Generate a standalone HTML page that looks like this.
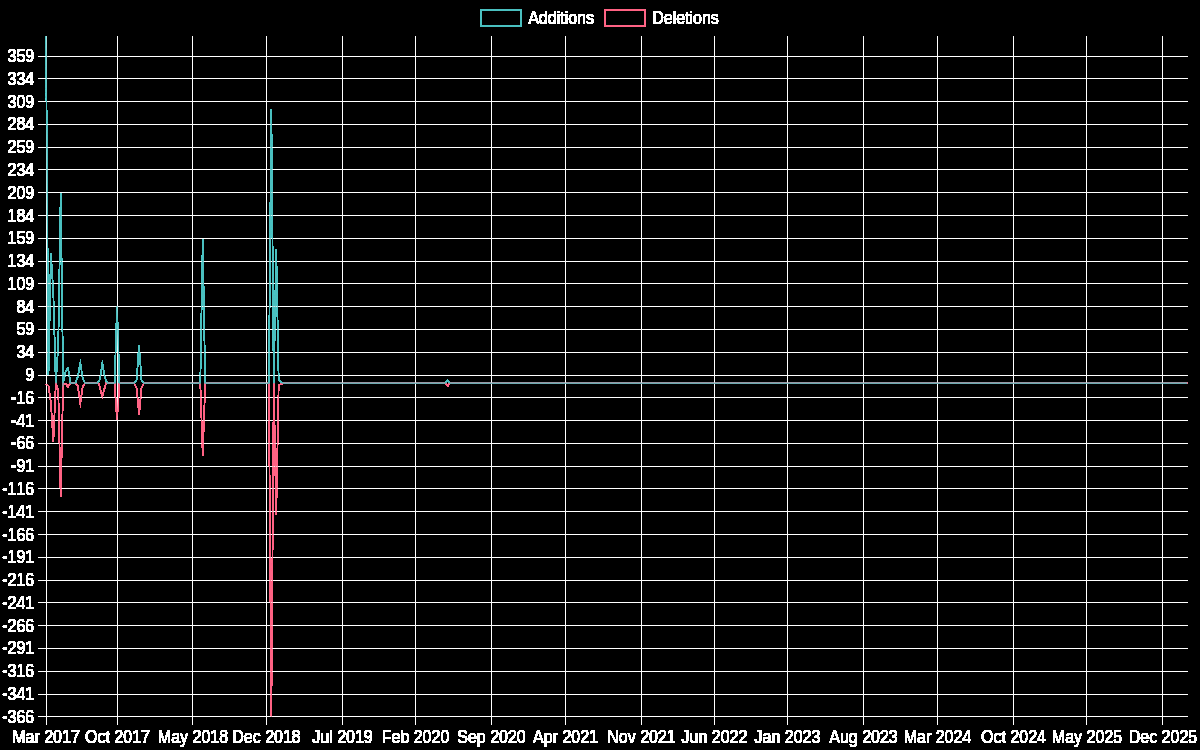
<!DOCTYPE html>
<html><head><meta charset="utf-8"><title>Additions / Deletions</title>
<style>html,body{margin:0;padding:0;background:#000;overflow:hidden}svg{display:block}text{font-family:"Liberation Sans",sans-serif;font-size:16px;fill:#fff;font-kerning:none;font-variant-ligatures:none}</style></head><body>
<svg width="1200" height="750" viewBox="0 0 1200 750">
<defs><clipPath id="ca"><rect x="45.5" y="35.5" width="1143" height="681.8"/></clipPath><filter id="th" x="0" y="0" width="1200" height="750" filterUnits="userSpaceOnUse" color-interpolation-filters="sRGB"><feComponentTransfer><feFuncA type="linear" slope="255" intercept="0"/></feComponentTransfer></filter></defs>
<rect x="0" y="0" width="1200" height="750" fill="#000"/>
<g filter="url(#th)">
<g fill="#fff" shape-rendering="crispEdges">
<rect x="46" y="36" width="1" height="689"/>
<rect x="117" y="36" width="1" height="689"/>
<rect x="192" y="36" width="1" height="689"/>
<rect x="266" y="36" width="1" height="689"/>
<rect x="342" y="36" width="1" height="689"/>
<rect x="415" y="36" width="1" height="689"/>
<rect x="491" y="36" width="1" height="689"/>
<rect x="565" y="36" width="1" height="689"/>
<rect x="641" y="36" width="1" height="689"/>
<rect x="714" y="36" width="1" height="689"/>
<rect x="787" y="36" width="1" height="689"/>
<rect x="863" y="36" width="1" height="689"/>
<rect x="937" y="36" width="1" height="689"/>
<rect x="1013" y="36" width="1" height="689"/>
<rect x="1086" y="36" width="1" height="689"/>
<rect x="1162" y="36" width="1" height="689"/>
<rect x="38" y="716" width="1150" height="1"/>
<rect x="38" y="694" width="1150" height="1"/>
<rect x="38" y="671" width="1150" height="1"/>
<rect x="38" y="648" width="1150" height="1"/>
<rect x="38" y="625" width="1150" height="1"/>
<rect x="38" y="602" width="1150" height="1"/>
<rect x="38" y="580" width="1150" height="1"/>
<rect x="38" y="557" width="1150" height="1"/>
<rect x="38" y="534" width="1150" height="1"/>
<rect x="38" y="511" width="1150" height="1"/>
<rect x="38" y="488" width="1150" height="1"/>
<rect x="38" y="466" width="1150" height="1"/>
<rect x="38" y="443" width="1150" height="1"/>
<rect x="38" y="420" width="1150" height="1"/>
<rect x="38" y="397" width="1150" height="1"/>
<rect x="38" y="375" width="1150" height="1"/>
<rect x="38" y="352" width="1150" height="1"/>
<rect x="38" y="329" width="1150" height="1"/>
<rect x="38" y="306" width="1150" height="1"/>
<rect x="38" y="283" width="1150" height="1"/>
<rect x="38" y="261" width="1150" height="1"/>
<rect x="38" y="238" width="1150" height="1"/>
<rect x="38" y="215" width="1150" height="1"/>
<rect x="38" y="192" width="1150" height="1"/>
<rect x="38" y="169" width="1150" height="1"/>
<rect x="38" y="147" width="1150" height="1"/>
<rect x="38" y="124" width="1150" height="1"/>
<rect x="38" y="101" width="1150" height="1"/>
<rect x="38" y="78" width="1150" height="1"/>
<rect x="38" y="56" width="1150" height="1"/>
</g>
<g clip-path="url(#ca)" fill="none" stroke-width="1.01" stroke-linejoin="miter" stroke-miterlimit="10">
<path stroke="rgb(255,99,132)" d="M46.00,384.50 L48.45,385.50 L50.90,403.00 L53.35,441.50 L55.80,383.23 L58.24,390.00 L60.69,497.00 L63.14,383.23 L65.59,383.90 L68.04,386.70 L70.49,383.23 L75.39,383.23 L77.84,386.00 L80.29,403.80 L82.73,386.50 L85.18,383.23 L98.60,383.23 L99.88,387.50 L102.33,397.00 L104.78,387.50 L106.00,383.23 L114.57,383.23 L117.02,420.00 L119.47,383.23 L134.16,383.23 L136.61,388.00 L139.06,415.00 L141.51,388.00 L143.96,383.23 L200.29,383.23 L202.74,456.00 L205.19,383.23 L268.86,383.23 L271.31,716.80 L273.76,383.23 L276.21,515.00 L278.65,385.00 L281.10,384.00 L283.55,383.23 L445.19,383.23 L447.64,385.96 L450.08,383.23 L1188.00,383.23"/>
<path stroke="rgb(75,192,192)" d="M46.00,36.00 L48.45,375.00 L50.90,253.00 L53.35,294.00 L55.80,383.23 L58.24,345.50 L60.69,193.00 L63.14,383.23 L65.59,371.50 L68.04,368.00 L70.49,383.23 L75.39,383.23 L77.84,376.50 L80.29,362.50 L82.73,378.20 L85.18,383.23 L97.43,383.23 L99.88,379.60 L102.33,363.20 L104.78,377.00 L107.22,383.23 L114.57,383.23 L117.02,306.00 L119.47,383.23 L134.16,383.23 L136.61,380.00 L139.06,345.00 L141.51,380.00 L143.96,383.23 L200.29,383.23 L202.74,239.00 L205.19,383.23 L268.86,383.23 L271.31,109.00 L273.76,383.23 L276.21,249.00 L278.65,379.50 L281.10,382.50 L283.55,383.23 L445.19,383.23 L447.64,380.50 L450.08,383.23 L1187.23,383.23"/>
</g>
<rect x="480.74" y="10" width="40" height="16" fill="none" stroke="rgb(75,192,192)" stroke-width="1"/>
<text transform="translate(528.20,24) scale(1,1.13)">Additions</text>
<rect x="604.56" y="10" width="40" height="16" fill="none" stroke="rgb(255,99,132)" stroke-width="1"/>
<text transform="translate(652.20,24) scale(1,1.13)">Deletions</text>
<text text-anchor="end" transform="translate(34.20,723) scale(1,1.13)">-366</text>
<text text-anchor="end" transform="translate(34.20,700) scale(1,1.13)">-341</text>
<text text-anchor="end" transform="translate(34.20,677) scale(1,1.13)">-316</text>
<text text-anchor="end" transform="translate(34.20,654) scale(1,1.13)">-291</text>
<text text-anchor="end" transform="translate(34.20,632) scale(1,1.13)">-266</text>
<text text-anchor="end" transform="translate(34.20,609) scale(1,1.13)">-241</text>
<text text-anchor="end" transform="translate(34.20,586) scale(1,1.13)">-216</text>
<text text-anchor="end" transform="translate(34.20,563) scale(1,1.13)">-191</text>
<text text-anchor="end" transform="translate(34.20,541) scale(1,1.13)">-166</text>
<text text-anchor="end" transform="translate(34.20,518) scale(1,1.13)">-141</text>
<text text-anchor="end" transform="translate(34.20,495) scale(1,1.13)">-116</text>
<text text-anchor="end" transform="translate(34.20,472) scale(1,1.13)">-91</text>
<text text-anchor="end" transform="translate(34.20,449) scale(1,1.13)">-66</text>
<text text-anchor="end" transform="translate(34.20,427) scale(1,1.13)">-41</text>
<text text-anchor="end" transform="translate(34.20,404) scale(1,1.13)">-16</text>
<text text-anchor="end" transform="translate(34.20,381) scale(1,1.13)">9</text>
<text text-anchor="end" transform="translate(34.20,358) scale(1,1.13)">34</text>
<text text-anchor="end" transform="translate(34.20,335) scale(1,1.13)">59</text>
<text text-anchor="end" transform="translate(34.20,313) scale(1,1.13)">84</text>
<text text-anchor="end" transform="translate(34.20,290) scale(1,1.13)">109</text>
<text text-anchor="end" transform="translate(34.20,267) scale(1,1.13)">134</text>
<text text-anchor="end" transform="translate(34.20,244) scale(1,1.13)">159</text>
<text text-anchor="end" transform="translate(34.20,222) scale(1,1.13)">184</text>
<text text-anchor="end" transform="translate(34.20,199) scale(1,1.13)">209</text>
<text text-anchor="end" transform="translate(34.20,176) scale(1,1.13)">234</text>
<text text-anchor="end" transform="translate(34.20,153) scale(1,1.13)">259</text>
<text text-anchor="end" transform="translate(34.20,130) scale(1,1.13)">284</text>
<text text-anchor="end" transform="translate(34.20,108) scale(1,1.13)">309</text>
<text text-anchor="end" transform="translate(34.20,85) scale(1,1.13)">334</text>
<text text-anchor="end" transform="translate(34.20,62) scale(1,1.13)">359</text>
<text text-anchor="middle" transform="translate(46.00,743) scale(1,1.13)">Mar 2017</text>
<text text-anchor="middle" transform="translate(117.50,743) scale(1,1.13)">Oct 2017</text>
<text text-anchor="middle" transform="translate(192.95,743) scale(1,1.13)">May 2018</text>
<text text-anchor="middle" transform="translate(266.50,743) scale(1,1.13)">Dec 2018</text>
<text text-anchor="middle" transform="translate(342.50,743) scale(1,1.13)">Jul 2019</text>
<text text-anchor="middle" transform="translate(415.50,743) scale(1,1.13)">Feb 2020</text>
<text text-anchor="middle" transform="translate(491.50,743) scale(1,1.13)">Sep 2020</text>
<text text-anchor="middle" transform="translate(565.50,743) scale(1,1.13)">Apr 2021</text>
<text text-anchor="middle" transform="translate(641.50,743) scale(1,1.13)">Nov 2021</text>
<text text-anchor="middle" transform="translate(714.50,743) scale(1,1.13)">Jun 2022</text>
<text text-anchor="middle" transform="translate(787.50,743) scale(1,1.13)">Jan 2023</text>
<text text-anchor="middle" transform="translate(863.50,743) scale(1,1.13)">Aug 2023</text>
<text text-anchor="middle" transform="translate(937.50,743) scale(1,1.13)">Mar 2024</text>
<text text-anchor="middle" transform="translate(1013.50,743) scale(1,1.13)">Oct 2024</text>
<text text-anchor="middle" transform="translate(1086.95,743) scale(1,1.13)">May 2025</text>
<text text-anchor="middle" transform="translate(1162.95,743) scale(1,1.13)">Dec 2025</text>
</g>
</svg></body></html>
